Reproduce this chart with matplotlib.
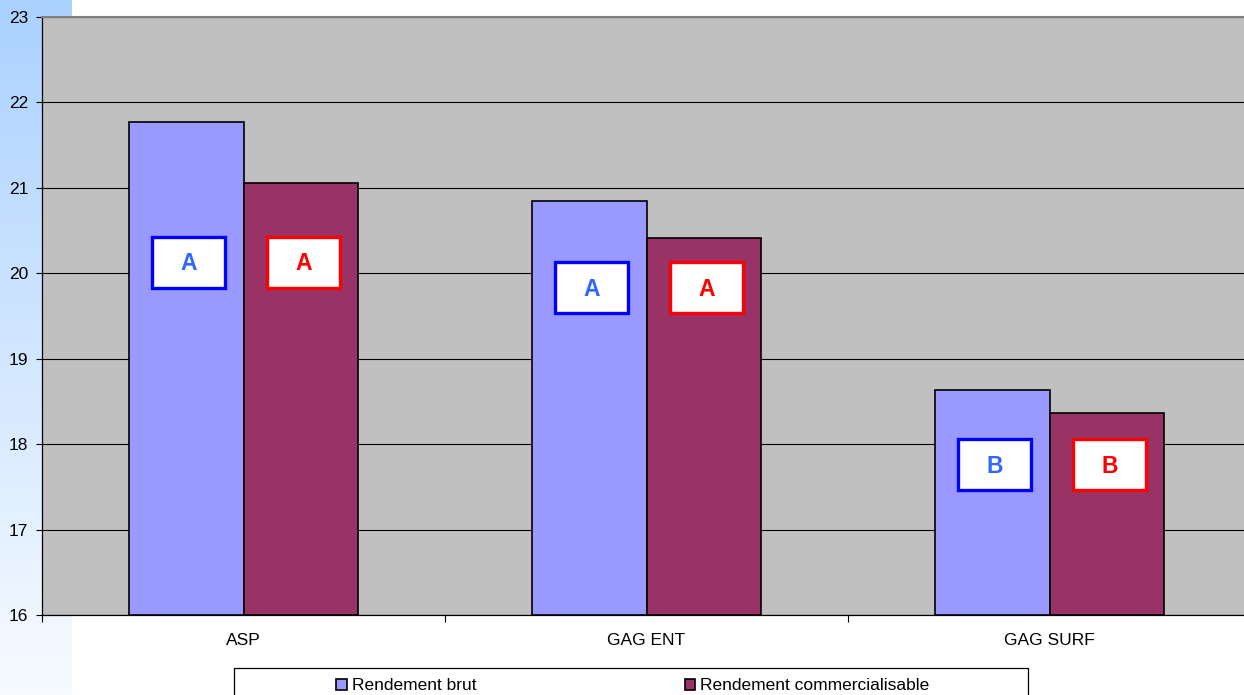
import numpy as np
import matplotlib
matplotlib.use("Agg")
import matplotlib.pyplot as plt
from matplotlib.patches import Rectangle

categories = ["ASP", "GAG ENT", "GAG SURF"]
series_names = ["Rendement brut", "Rendement commercialisable"]
rendement_brut = [21.77, 20.85, 18.63]
rendement_comm = [21.06, 20.41, 18.36]
letters_brut = ["A", "A", "B"]
letters_comm = ["A", "A", "B"]
letter_y = [20.13, 19.83, 17.76]
yticks = [16, 17, 18, 19, 20, 21, 22, 23]

plt.rcParams['font.family'] = ['Liberation Sans', 'DejaVu Sans']

W, H = 1244, 695
fig = plt.figure(figsize=(W / 100, H / 100), dpi=100)
fig.patch.set_facecolor("white")

# left gradient strip
bg = fig.add_axes([0, 0, 72 / W, 1], zorder=-10)
grad = np.linspace(0, 1, 256).reshape(-1, 1)
top = np.array([0.67, 0.82, 1.0])
bot = np.array([0.97, 0.985, 1.0])
img = top[None, None, :] * (1 - grad[:, :, None]) + bot[None, None, :] * grad[:, :, None]
bg.imshow(img, aspect="auto", extent=[0, 1, 0, 1])
bg.axis("off")

ax = fig.add_axes([42 / W, 1 - 615 / H, 1209 / W, 598 / H])
ax.set_facecolor("#C0C0C0")

x = np.arange(len(categories))
bw = 0.285
b1 = ax.bar(x - bw / 2, np.array(rendement_brut) - 16, bw, bottom=16, color="#9999FF",
            edgecolor="black", linewidth=1.2, label=series_names[0], zorder=3)
b2 = ax.bar(x + bw / 2, np.array(rendement_comm) - 16, bw, bottom=16, color="#993366",
            edgecolor="black", linewidth=1.2, label=series_names[1], zorder=3)

bxw, bxh = 0.182, 0.60
for i in range(len(categories)):
    for dx, letter, ec, tc in [(-bw / 2, letters_brut[i], "#0000FF", "#3366FF"),
                               (bw / 2, letters_comm[i], "#FF0000", "#FF0000")]:
        cx = x[i] + dx + 0.006
        ax.add_patch(Rectangle((cx - bxw / 2, letter_y[i] - bxh / 2), bxw, bxh,
                               facecolor="white", edgecolor=ec, linewidth=2.4, zorder=4))
        ax.text(cx, letter_y[i] - 0.02, letter, color=tc, fontsize=16.5, fontweight="bold",
                ha="center", va="center", zorder=5)

ax.set_ylim(16, 23)
ax.set_xlim(-0.5, len(categories) - 0.5)
ax.set_yticks(yticks)
ax.yaxis.grid(True, color="black", linewidth=0.8, zorder=1)
ax.set_axisbelow(True)
ax.tick_params(axis="y", direction="out", length=4, width=0.8, labelsize=12.5, pad=6)

ax.set_xticks(np.arange(len(categories) + 1) - 0.5)
ax.set_xticklabels([])
ax.set_xticks(x, minor=True)
ax.set_xticklabels(categories, minor=True)
ax.tick_params(axis="x", which="major", direction="out", length=5, width=0.8)
ax.tick_params(axis="x", which="minor", length=0, labelsize=12.5, pad=13)

for s in ["left", "bottom"]:
    ax.spines[s].set_color("black")
    ax.spines[s].set_linewidth(0.9)
ax.spines["top"].set_color("#808080")
ax.spines["top"].set_linewidth(1.5)
ax.spines["right"].set_visible(False)

# legend
fig.patches.append(Rectangle((234 / W, -0.05), 794 / W, 0.05 + (H - 668) / H,
                             transform=fig.transFigure, facecolor="white",
                             edgecolor="black", linewidth=0.9, zorder=0))
leg = fig.legend(handles=[b1, b2], labels=series_names, loc="center",
                 bbox_to_anchor=(633 / W, 1 - 686 / H), ncol=2, frameon=False,
                 fontsize=12.5, handlelength=0.6, handleheight=0.6,
                 handletextpad=0.3, columnspacing=12.0, borderaxespad=0)

fig.savefig("out.png", dpi=100)
